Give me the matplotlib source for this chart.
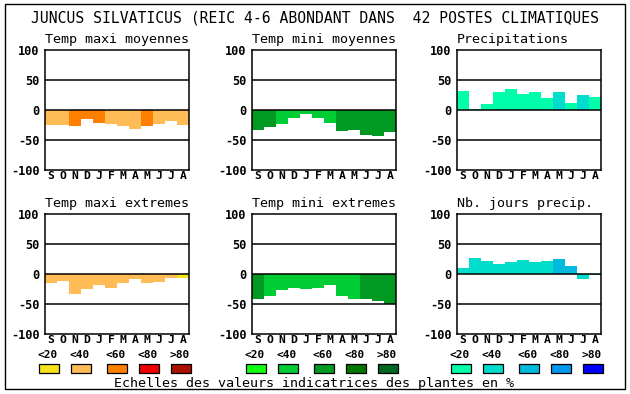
"""Juncus silvaticus climate indicator chart: 6 monthly bar panels."""

import matplotlib
matplotlib.use("Agg")
import matplotlib.pyplot as plt
from matplotlib.patches import Rectangle

W, H = 630, 394

MONTHS = ["S", "O", "N", "D", "J", "F", "M", "A", "M", "J", "J", "A"]
SCALE_LABELS = ["<20", "<40", "<60", "<80", ">80"]

# colour scales (class 0..4 = <20 .. >80)
ORANGES = ["#f7e31c", "#ffbb55", "#ff8000", "#ee0000", "#aa1100"]
GREENS = ["#11ff11", "#00cc33", "#009922", "#007700", "#006622"]
BLUES = ["#00ffaa", "#00ddcc", "#00bbdd", "#0099ee", "#0000ff"]

# values (%)
tmax_moy = [-25, -25, -26.7, -15, -21.7, -23, -26.7, -31.7, -26.7, -23, -18, -25]
tmax_moy_cls = [1, 1, 2, 2, 2, 1, 1, 1, 2, 1, 1, 1]

tmin_moy = [-32.5, -27.8, -23, -13, -6.7, -13, -21.5, -34.5, -33, -41.5, -43, -36.5]
tmin_moy_cls = [2, 2, 1, 1, 1, 1, 1, 2, 2, 2, 2, 2]

precip = [31.7, 1.7, 10, 30, 35, 26.7, 30, 20, 30, 11.7, 25, 21.7]
precip_cls = [0, 0, 0, 0, 0, 0, 0, 0, 1, 0, 1, 0]

tmax_ext = [-15, -11.7, -33.3, -25, -18.3, -23.3, -15, -8.3, -15, -13.3, -6.7, -6.7]
tmax_ext_cls = [1, 1, 1, 1, 1, 1, 1, 1, 1, 1, 1, 0]

tmin_ext = [-41.7, -36.7, -26.7, -23.3, -25, -23.3, -18.3, -36.7, -41.7, -41.7, -45, -50]
tmin_ext_cls = [2, 1, 1, 1, 1, 1, 1, 1, 1, 2, 2, 2]

nb_jours = [10, 26.7, 21.7, 16.7, 20, 23.3, 20, 21.7, 25, 13.3, -7.5, -1.5]
nb_jours_cls = [1, 1, 1, 1, 1, 1, 1, 1, 2, 2, 1, 1]

PANELS = [
    ("Temp maxi moyennes", tmax_moy, tmax_moy_cls, ORANGES),
    ("Temp mini moyennes", tmin_moy, tmin_moy_cls, GREENS),
    ("Precipitations", precip, precip_cls, BLUES),
    ("Temp maxi extremes", tmax_ext, tmax_ext_cls, ORANGES),
    ("Temp mini extremes", tmin_ext, tmin_ext_cls, GREENS),
    ("Nb. jours precip.", nb_jours, nb_jours_cls, BLUES),
]

TITLE = "JUNCUS SILVATICUS (REIC 4-6 ABONDANT DANS  42 POSTES CLIMATIQUES"
FOOTER = "Echelles des valeurs indicatrices des plantes en %"

MONO = "DejaVu Sans Mono"
plt.rcParams["font.family"] = MONO

# pixel layout
COL_X = [45, 252, 457]
ROW_Y = [50, 214]
AX_W, AX_H = 144, 120


def px_rect(x, y, w, h):
    """Figure-fraction rect from top-left pixel box."""
    return [x / W, 1 - (y + h) / H, w / W, h / H]


fig = plt.figure(figsize=(W / 100, H / 100), dpi=100)
fig.patch.set_facecolor("white")

# outer frame
fig.add_artist(Rectangle((5 / W, 1 - 389 / H), 620 / W, 385 / H,
                         transform=fig.transFigure, fill=False,
                         edgecolor="black", lw=1))

fig.text(315 / W, 1 - 18 / H, TITLE, ha="center", va="center", fontsize=10.6)

for i, (name, vals, cls, palette) in enumerate(PANELS):
    row, col = divmod(i, 3)
    ax = fig.add_axes(px_rect(COL_X[col], ROW_Y[row], AX_W, AX_H))
    ax.bar(range(12), vals, width=1.0, color=[palette[c] for c in cls],
           linewidth=0, zorder=2)
    for yv in (50, 0, -50):
        ax.axhline(yv, color="black", lw=1.1, zorder=3)
    ax.set_xlim(-0.5, 11.5)
    ax.set_ylim(-100, 100)
    ax.set_yticks([100, 50, 0, -50, -100])
    ax.set_yticklabels(["100", "50", "0", "-50", "-100"],
                       fontsize=8.6, fontweight="bold")
    ax.set_xticks(range(12))
    ax.set_xticklabels(MONTHS, fontsize=8.2, fontweight="bold")
    ax.tick_params(length=0, pad=4, axis="y")
    ax.tick_params(length=0, pad=1, axis="x")
    for sp in ax.spines.values():
        sp.set_linewidth(1.1)
    ax.set_title(name, loc="left", fontsize=9.6, pad=5, x=0.0)

# colour-scale legends under each column
BOX_X = [39, 71, 107, 139, 171]
for col, palette in enumerate([ORANGES, GREENS, BLUES]):
    dx = COL_X[col] - COL_X[0]
    for k, (lab, c) in enumerate(zip(SCALE_LABELS, palette)):
        bx = BOX_X[k] + dx
        fig.add_artist(Rectangle((bx / W, 1 - 373 / H), 20 / W, 9 / H,
                                 transform=fig.transFigure, facecolor=c,
                                 edgecolor="black", lw=0.9))
        fig.text((bx + 9) / W, 1 - 355 / H, lab, ha="center", va="center",
                 fontsize=8, fontweight="bold")

fig.text(314 / W, 1 - 383 / H, FOOTER, ha="center", va="center", fontsize=9.6)

fig.savefig("out.png", dpi=100)
